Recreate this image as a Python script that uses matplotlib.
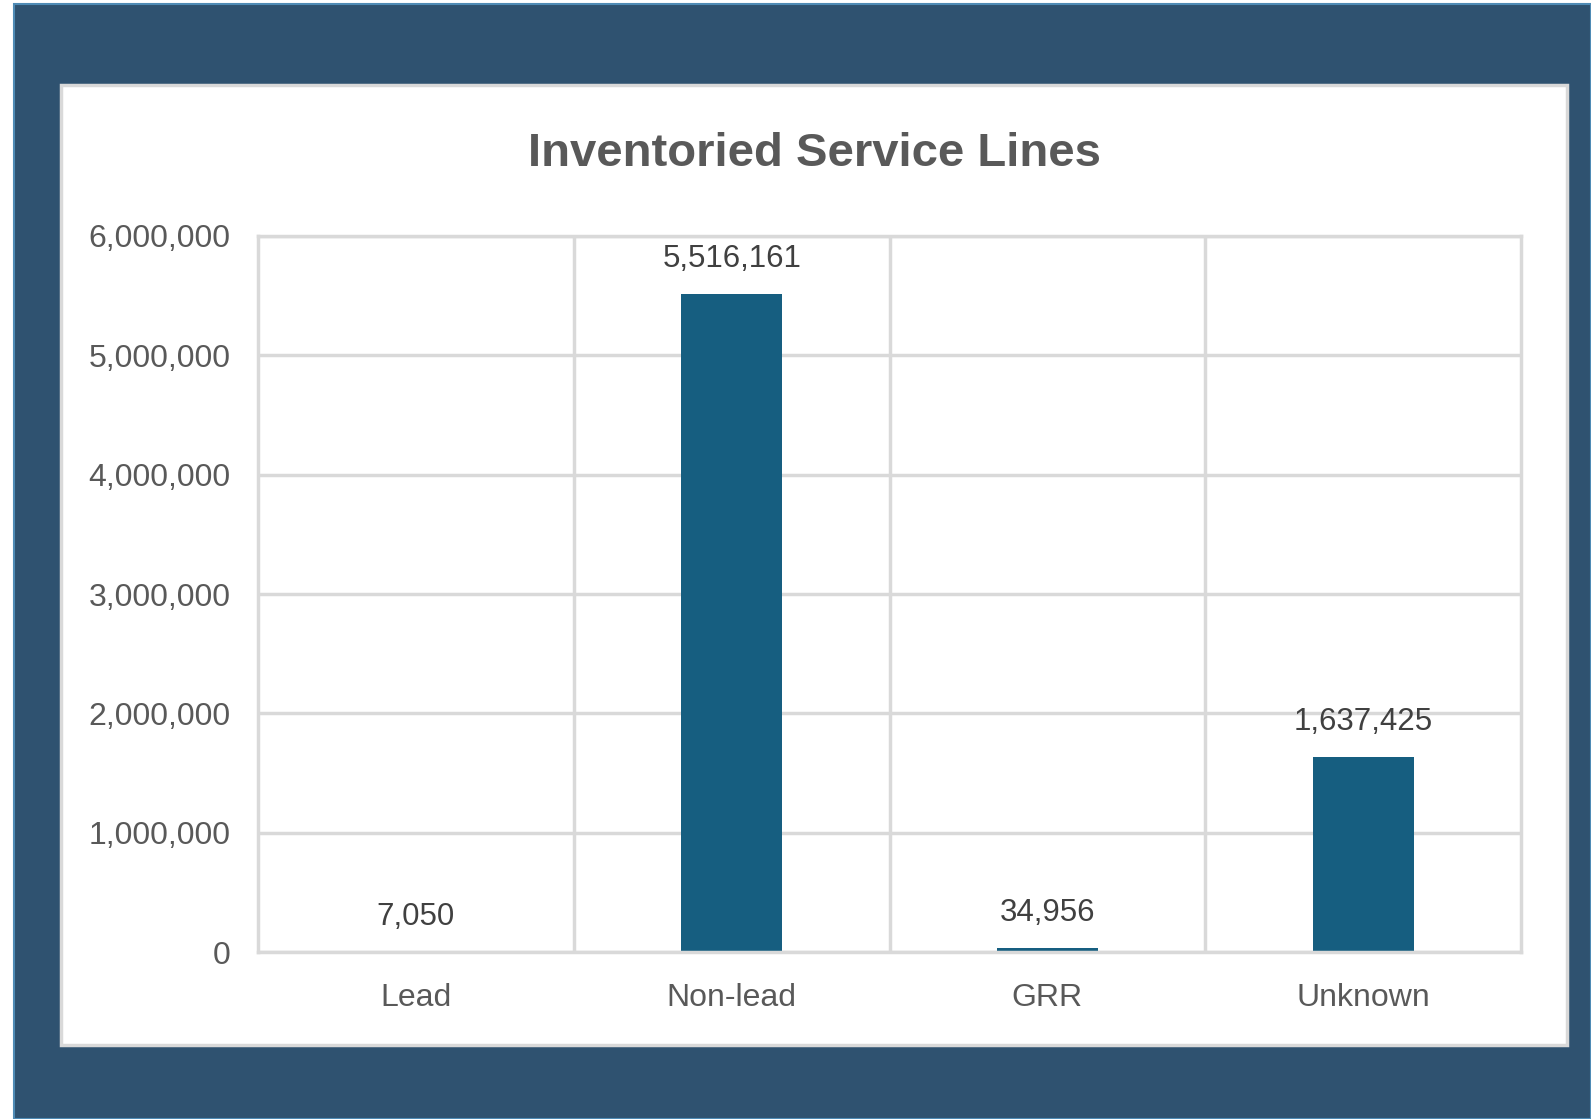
import matplotlib

matplotlib.use("Agg")
import matplotlib.pyplot as plt
from matplotlib.patches import Rectangle
from matplotlib.ticker import FuncFormatter, MultipleLocator

categories = ["Lead", "Non-lead", "GRR", "Unknown"]
service_lines = [7050, 5516161, 34956, 1637425]

plt.rcParams["font.family"] = ["Liberation Sans Narrow", "Liberation Sans", "DejaVu Sans"]

BG_DARK = "#2F5270"
BAR_COLOR = "#165E80"
GRID = "#D9D9D9"
TEXT = "#595959"

fig = plt.figure(figsize=(15.91, 11.19), dpi=100, facecolor="white")

# dark frame and white chart card
fig.patches.append(Rectangle((0.0088, 0.0), 0.9912, 0.9964, transform=fig.transFigure,
                             facecolor=BG_DARK, edgecolor="#4F8BB5", linewidth=1.5, zorder=-2))
fig.patches.append(Rectangle((0.0383, 0.0661), 0.9466, 0.8579, transform=fig.transFigure,
                             facecolor="white", edgecolor=GRID, linewidth=2.5, zorder=-1))

ax = fig.add_axes([0.1622, 0.1492, 0.7938, 0.6399])
x = range(len(categories))
bars = ax.bar(x, service_lines, width=0.32, color=BAR_COLOR, zorder=2)

ax.set_xlim(-0.5, len(categories) - 0.5)
ax.set_ylim(0, 6_000_000)
ax.yaxis.set_major_locator(MultipleLocator(1_000_000))
ax.yaxis.set_major_formatter(FuncFormatter(lambda v, _: f"{int(v):,}"))
ax.set_xticks(list(x))
ax.set_xticklabels(categories)

# category boundary lines, like an Excel column chart with vertical gridlines
ax.set_xticks([i + 0.5 for i in range(len(categories) - 1)], minor=True)
ax.grid(axis="y", which="major", color=GRID, linewidth=2.5, zorder=0)
ax.grid(axis="x", which="minor", color=GRID, linewidth=2.5, zorder=0)
for spine in ax.spines.values():
    spine.set_color(GRID)
    spine.set_linewidth(2.5)
    spine.set_zorder(3)

ax.tick_params(axis="both", which="both", length=0, labelsize=23, labelcolor=TEXT)
ax.tick_params(axis="x", pad=22)
ax.tick_params(axis="y", pad=20)

for bar, val in zip(bars, service_lines):
    ax.annotate(f"{val:,}", (bar.get_x() + bar.get_width() / 2, val),
                xytext=(0, 14), textcoords="offset points",
                ha="center", va="bottom", fontsize=22.5, color="#404040")

fig.text(0.512, 0.862, "Inventoried Service Lines", ha="center", va="center",
         fontsize=34, fontweight="bold", color=TEXT)

fig.savefig("out.png", dpi=100)
